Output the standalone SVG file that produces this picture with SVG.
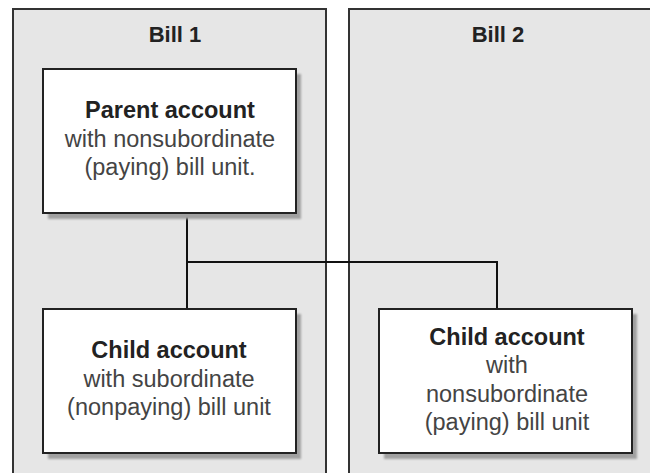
<svg xmlns="http://www.w3.org/2000/svg" width="650" height="473" viewBox="0 0 650 473">
  <style>
    .panel { fill: #e6e6e6; stroke: #333; stroke-width: 2; }
    .box { fill: #fff; stroke: #222; stroke-width: 2; }
    .shadow { fill: #a0a0a0; filter: url(#soft); }
    .title { font-family: "Liberation Sans", Arial, sans-serif; font-weight: bold; font-size: 22px; fill: #222; text-anchor: middle; }
    .head { font-family: "Liberation Sans", Arial, sans-serif; font-weight: bold; font-size: 23.5px; fill: #222; text-anchor: middle; }
    .body { font-family: "Liberation Sans", Arial, sans-serif; font-size: 23.5px; fill: #444; text-anchor: middle; }
    .wire { fill: none; stroke: #111; stroke-width: 2; }
  </style>
  <defs>
    <filter id="soft" x="-10%" y="-10%" width="120%" height="120%">
      <feGaussianBlur stdDeviation="1"/>
    </filter>
  </defs>
  <rect width="650" height="473" fill="#fff"/>

  <!-- bill panels -->
  <g id="bill1">
    <rect class="panel" x="13" y="9" width="313" height="480"/>
    <text class="title" x="175" y="42">Bill 1</text>
  </g>
  <g id="bill2">
    <rect class="panel" x="349" y="9" width="320" height="480"/>
    <text class="title" x="498" y="42">Bill 2</text>
  </g>

  <!-- hierarchy links -->
  <g id="connectors">
    <path class="wire" d="M187 213 V309"/>
    <path class="wire" d="M187 262 H498"/>
    <path class="wire" d="M497 262 V309" stroke="#555"/>
  </g>

  <g id="parent">
    <rect class="shadow" x="48" y="74" width="253" height="145"/>
    <rect class="box" x="43" y="69" width="253" height="144"/>
    <text class="head" x="170" y="118">Parent account</text>
    <text class="body" x="170" y="147">with nonsubordinate</text>
    <text class="body" x="170" y="175">(paying) bill unit.</text>
  </g>

  <g id="child1">
    <rect class="shadow" x="48" y="314" width="253" height="145"/>
    <rect class="box" x="43" y="309" width="253" height="144"/>
    <text class="head" x="169" y="358">Child account</text>
    <text class="body" x="169" y="387">with subordinate</text>
    <text class="body" x="169" y="415">(nonpaying) bill unit</text>
  </g>

  <g id="child2">
    <rect class="shadow" x="384" y="314" width="253" height="145"/>
    <rect class="box" x="379" y="309" width="253" height="144"/>
    <text class="head" x="507" y="345">Child account</text>
    <text class="body" x="507" y="373">with</text>
    <text class="body" x="507" y="402">nonsubordinate</text>
    <text class="body" x="507" y="430">(paying) bill unit</text>
  </g>
</svg>
